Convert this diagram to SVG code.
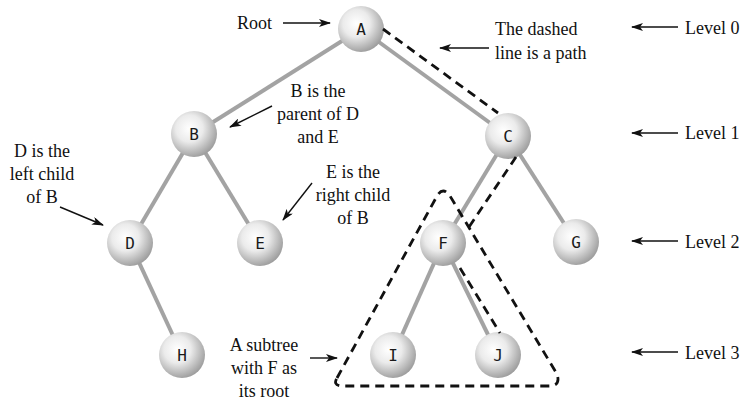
<svg xmlns="http://www.w3.org/2000/svg" width="744" height="403" viewBox="0 0 744 403">
<defs>
<radialGradient id="ball" cx="0.4" cy="0.38" r="0.65">
<stop offset="0" stop-color="#ffffff"/>
<stop offset="0.45" stop-color="#ebebeb"/>
<stop offset="1" stop-color="#9c9c9c"/>
</radialGradient>
<marker id="ah" viewBox="0 0 12 8" refX="11" refY="4" markerWidth="12" markerHeight="8" markerUnits="userSpaceOnUse" orient="auto">
<path d="M0,0 L12,4 L0,8 L3,4 Z" fill="#111"/>
</marker>
</defs>
<style>
.edge{stroke:#a3a3a3;stroke-width:4;fill:none}
.dash{stroke:#111;stroke-width:2.8;fill:none;stroke-dasharray:9 6}
.arrow{stroke:#111;stroke-width:1.4;fill:none;marker-end:url(#ah)}
.node circle{fill:url(#ball)}
.node text{font-family:"DejaVu Sans Mono",monospace;font-size:16px;fill:#1a1a1a;text-anchor:middle}
.lbl{font-family:"Liberation Serif","Times New Roman",serif;font-size:18px;fill:#111}
.c{text-anchor:middle}
</style>
<rect width="744" height="403" fill="#fff"/>
<g id="connectors">
<line class="edge" x1="361" y1="29" x2="194" y2="134"/>
<line class="edge" x1="361" y1="29" x2="508" y2="136"/>
<line class="edge" x1="194" y1="134" x2="130" y2="243"/>
<line class="edge" x1="194" y1="134" x2="260" y2="243"/>
<line class="edge" x1="130" y1="243" x2="182" y2="355"/>
<line class="edge" x1="508" y1="136" x2="443" y2="243"/>
<line class="edge" x1="508" y1="136" x2="576" y2="242"/>
<line class="edge" x1="443" y1="243" x2="393" y2="355"/>
<line class="edge" x1="443" y1="243" x2="498" y2="355"/>
</g>
<g id="nodes">
<g id="node-A" class="node"><circle cx="361" cy="29" r="23"/><text x="361" y="35">A</text></g>
<g id="node-B" class="node"><circle cx="194" cy="134" r="23"/><text x="194" y="140">B</text></g>
<g id="node-C" class="node"><circle cx="508" cy="136" r="23"/><text x="508" y="142">C</text></g>
<g id="node-D" class="node"><circle cx="130" cy="243" r="23"/><text x="130" y="249">D</text></g>
<g id="node-E" class="node"><circle cx="260" cy="243" r="23"/><text x="260" y="249">E</text></g>
<g id="node-F" class="node"><circle cx="443" cy="243" r="23"/><text x="443" y="249">F</text></g>
<g id="node-G" class="node"><circle cx="576" cy="242" r="23"/><text x="576" y="248">G</text></g>
<g id="node-H" class="node"><circle cx="182" cy="355" r="23"/><text x="182" y="361">H</text></g>
<g id="node-I" class="node"><circle cx="393" cy="355" r="23"/><text x="393" y="361">I</text></g>
<g id="node-J" class="node"><circle cx="498" cy="355" r="23"/><text x="498" y="361">J</text></g>
</g>
<g id="dashed-path">
<line class="dash" x1="383" y1="29" x2="498" y2="113"/>
<line class="dash" x1="516" y1="157" x2="469" y2="227"/>
<line class="dash" x1="460" y1="268" x2="500" y2="333"/>
</g>
<g id="subtree-outline">
<path class="dash" d="M337,378 L437,196 Q443,186 450,196 L557,374 Q561,386 549,386 L344,386 Q332,386 337,378 Z"/>
</g>
<g id="annotations">
<line class="arrow" x1="283" y1="23" x2="330" y2="23"/>
<line class="arrow" x1="489" y1="48" x2="440" y2="48"/>
<line class="arrow" x1="678" y1="27" x2="632" y2="27"/>
<line class="arrow" x1="678" y1="133" x2="632" y2="133"/>
<line class="arrow" x1="678" y1="241" x2="632" y2="241"/>
<line class="arrow" x1="678" y1="352" x2="632" y2="352"/>
<line class="arrow" x1="272" y1="106" x2="230" y2="127"/>
<line class="arrow" x1="60" y1="207" x2="103" y2="225"/>
<line class="arrow" x1="312" y1="183" x2="283" y2="220"/>
<line class="arrow" x1="310" y1="358" x2="337" y2="358"/>
<text class="lbl" x="237" y="29">Root</text>
<text class="lbl" x="495" y="35">The dashed</text>
<text class="lbl" x="495" y="59">line is a path</text>
<text class="lbl" x="685" y="34">Level 0</text>
<text class="lbl" x="685" y="139">Level 1</text>
<text class="lbl" x="685" y="248">Level 2</text>
<text class="lbl" x="685" y="359">Level 3</text>
<text class="lbl c" x="318" y="97">B is the</text>
<text class="lbl c" x="318" y="120">parent of D</text>
<text class="lbl c" x="318" y="143">and E</text>
<text class="lbl c" x="42" y="157">D is the</text>
<text class="lbl c" x="42" y="180">left child</text>
<text class="lbl c" x="42" y="203">of B</text>
<text class="lbl c" x="353" y="178">E is the</text>
<text class="lbl c" x="353" y="201">right child</text>
<text class="lbl c" x="353" y="224">of B</text>
<text class="lbl c" x="264" y="351">A subtree</text>
<text class="lbl c" x="264" y="374">with F as</text>
<text class="lbl c" x="264" y="397">its root</text>
</g>
</svg>
